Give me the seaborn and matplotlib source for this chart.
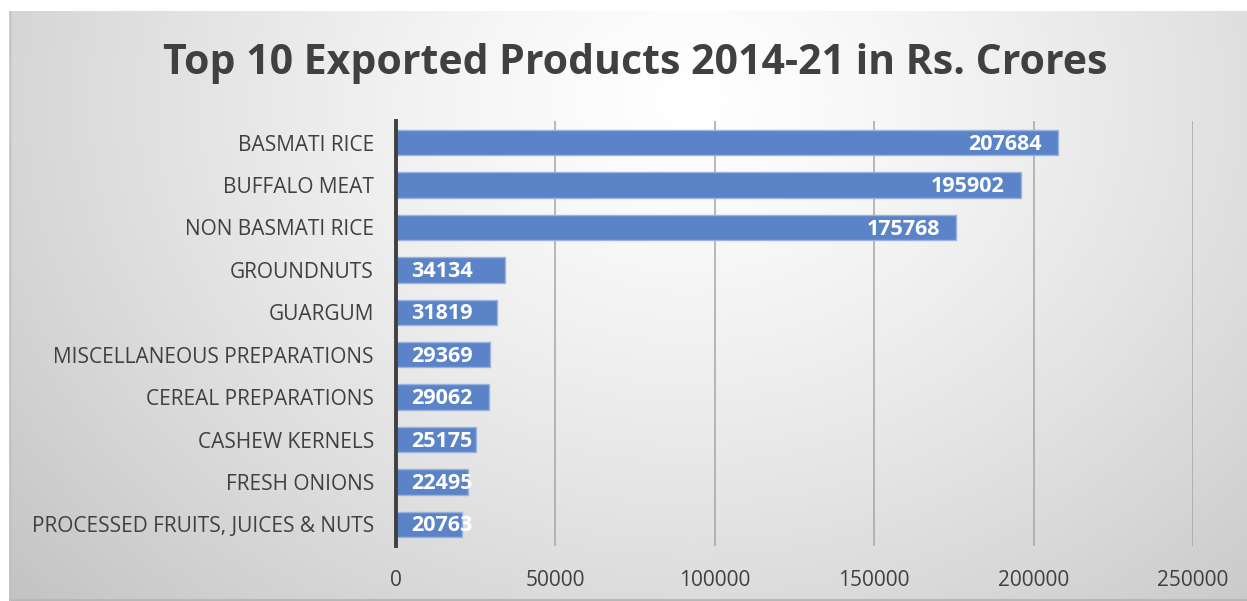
import numpy as np
import pandas as pd
import matplotlib
matplotlib.use("Agg")
import matplotlib.pyplot as plt
import seaborn as sns

products = ["BASMATI RICE", "BUFFALO MEAT", "NON BASMATI RICE", "GROUNDNUTS", "GUARGUM",
            "MISCELLANEOUS PREPARATIONS", "CEREAL PREPARATIONS", "CASHEW KERNELS",
            "FRESH ONIONS", "PROCESSED FRUITS, JUICES & NUTS"]
values = [207684, 195902, 175768, 34134, 31819, 29369, 29062, 25175, 22495, 20763]
x_ticks = [0, 50000, 100000, 150000, 200000, 250000]
title = "Top 10 Exported Products 2014-21 in Rs. Crores"

df = pd.DataFrame({"product": products, "value": values})

sns.set_theme(style="white")
plt.rcParams['font.family'] = ['Open Sans', 'DejaVu Sans']

W, H = 1247, 601
fig = plt.figure(figsize=(W / 100, H / 100), dpi=100)
fig.patch.set_facecolor("white")

# background gradient panel
bx0, by0 = 9 / W, 0
bw, bh = (W - 9) / W, (H - 11) / H
bg = fig.add_axes([bx0, by0, bw, bh])
gx, gy = np.meshgrid(np.linspace(0, 1, 400), np.linspace(0, 1, 200))
d = np.sqrt(((gx - 0.55) / 0.75) ** 2 + ((gy - 0.15) / 1.3) ** 2)
d = np.clip(d, 0, 1)
shade = 1.0 - 0.24 * d ** 1.3
bg.imshow(np.dstack([shade, shade, shade]), aspect="auto", extent=[0, 1, 1, 0], interpolation="bilinear")
bg.set_xlim(0, 1); bg.set_ylim(1, 0)
bg.set_xticks([]); bg.set_yticks([])
for s in bg.spines.values():
    s.set_visible(False)
bg.plot([0, 1], [0.002, 0.002], color="#b8b8b8", lw=1.5, transform=bg.transAxes)
bg.plot([0.001, 0.001], [0, 1], color="#c0c0c0", lw=1, transform=bg.transAxes)

ax = fig.add_axes([396 / W, 1 - 545.5 / H, (1193 - 396) / W, (545.5 - 121.5) / H])
ax.patch.set_alpha(0)
sns.barplot(data=df, x="value", y="product", ax=ax, color="#5b84c8", width=0.6,
            edgecolor="#9ab2e0", linewidth=1.0, saturation=1)
ax.set_xlim(0, 250000)
ax.set_ylim(9.5, -0.5)
ax.set_xticks(x_ticks)
ax.set_xticklabels([str(t) for t in x_ticks])
ax.set_xlabel(""); ax.set_ylabel("")
ax.tick_params(axis="x", length=0, labelsize=15, labelcolor="#404040", pad=18)
ax.tick_params(axis="y", length=0, labelsize=15, labelcolor="#404040", pad=16)
for t in x_ticks[1:]:
    ax.axvline(t, color="#a6a6a6", lw=1.1, zorder=0)
for s in ["top", "right", "bottom"]:
    ax.spines[s].set_visible(False)
ax.spines["left"].set_color("#404040")
ax.spines["left"].set_linewidth(2.8)
ax.spines["left"].set_zorder(5)

for i, v in enumerate(values):
    if v > 100000:
        ax.text(v - 5000, i + 0.04, str(v), ha="right", va="center", color="white",
                fontsize=15.5, fontweight="bold")
    else:
        ax.text(4700, i + 0.04, str(v), ha="left", va="center", color="white",
                fontsize=15.5, fontweight="bold")

fig.text(635 / W, 1 - 64 / H, title, ha="center", va="center", fontsize=29.5,
         fontweight="bold", color="#404040")

fig.savefig("out.png", dpi=100)
